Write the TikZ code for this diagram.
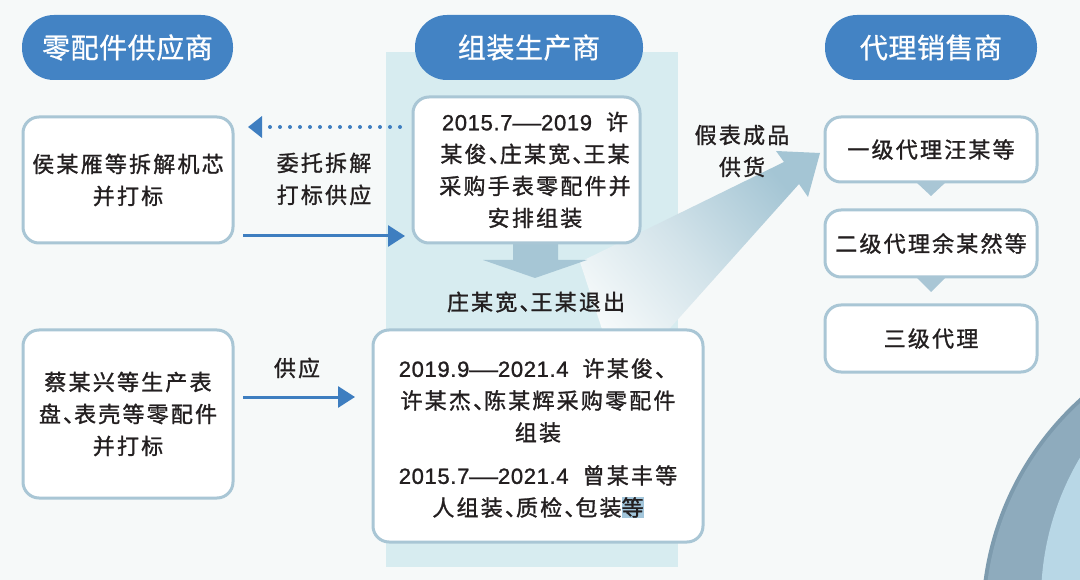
\documentclass[tikz,border=0pt]{standalone}
\usepackage{fontspec}
\usepackage{graphicx}
\setmainfont[LetterSpace=10,FakeBold=1.2]{Noto Sans CJK SC}
\newfontfamily\hdfont[LetterSpace=2,FakeBold=0.8]{Noto Sans CJK SC}
\newfontfamily\lat[LetterSpace=3,FakeBold=1.2]{Liberation Sans}
\usetikzlibrary{arrows.meta}
\definecolor{bg}{HTML}{F6F9F9}
\definecolor{pillc}{HTML}{4383C4}
\definecolor{boxc}{HTML}{A9C6D5}
\definecolor{arrc}{HTML}{3E7EC0}
\definecolor{bandc}{HTML}{D7ECF0}
\definecolor{headc}{HTML}{A4C5D4}
\definecolor{tailc}{HTML}{F8FBFB}
\definecolor{downc}{HTML}{A6C6D5}
\definecolor{txt}{HTML}{231F20}
\definecolor{hl}{HTML}{A3C6DB}
\definecolor{rimc}{HTML}{7D9BAE}
\definecolor{ringc}{HTML}{8EABBD}
\definecolor{innerc}{HTML}{B8D7E6}
\newcommand\dn{、\kern-0.5em}
\newcommand\dsh{\scalebox{1.3}[1]{—}}
\newcommand\bodyf{\fontsize{22}{32}\selectfont}
\begin{document}
\begin{tikzpicture}[x=1pt,y=-1pt,
  box/.style={draw=boxc, line width=3pt, fill=white, rounded corners=16pt, inner sep=0pt, align=center, text=txt, font=\bodyf},
  pill/.style={fill=pillc, rounded corners=32pt, minimum height=65pt, inner sep=0pt, text=white, font=\hdfont\fontsize{28}{34}\selectfont},
  lbl/.style={align=center, text=txt, font=\bodyf, inner sep=0pt},
  arr/.style={draw=arrc, line width=3pt, -{Triangle[length=17pt,width=21pt]}},
  dotarr/.style={draw=arrc, line width=4pt, line cap=round, dash pattern=on 0pt off 10pt, -{Triangle[length=14pt,width=21pt]}},
  tri/.style={fill=boxc}]
\useasboundingbox (0,0) rectangle (1080,580);
\fill[bg] (0,0) rectangle (1080,580);
% decorative rings bottom right
\begin{scope}
\clip (0,0) rectangle (1080,580);
\fill[rimc] (1280,620) circle[radius=299pt];
\fill[ringc] (1280,620) circle[radius=295pt];
\fill[innerc] (1320,600) circle[radius=279pt];
\end{scope}
% band behind the middle column
\fill[bandc] (386,52) rectangle (678,567);
% diagonal arrow
\shade[top color=headc, bottom color=tailc, middle color=headc!45!tailc, shading angle=-50]
  (580,262) -- (784,162) -- (776,151) -- (820,153) -- (808,197) -- (799,184) -- (620,384) -- cycle;
% down arrow
\fill[downc] (513,240) -- (558,240) -- (558,260) -- (587,260) -- (535,278) -- (483,260) -- (513,260) -- cycle;
% headers
\node[pill, minimum width=211pt] (p1) at (127.5,47.5) {零配件供应商};
\node[pill, minimum width=228pt] (p2) at (529,47.5) {组装生产商};
\node[pill, minimum width=212pt] (p3) at (931,47.5) {代理销售商};
% boxes
\node[box, minimum width=210pt, minimum height=126pt] (l1) at (128,180) {侯某雁等拆解机芯\\并打标};
\node[box, minimum width=210pt, minimum height=168pt] (l2) at (128,414) {蔡某兴等生产表\\盘\dn 表壳等零配件\\并打标};
\node[box, minimum width=227pt, minimum height=146pt] (mt) at (526.5,170) {};
\node[lbl] (mtt) at (535,170) {{\lat 2015.7\dsh 2019}\hspace{14pt}许\\某俊\dn 庄某宽\dn 王某\\采购手表零配件并\\安排组装};
\node[box, minimum width=330pt, minimum height=212pt] (mb) at (538,436) {};
\node[lbl] (mbt) at (538,438) {{\lat 2019.9\dsh 2021.4}\hspace{14pt}许某俊、\\许某杰\dn 陈某辉采购零配件\\组装\\[11pt]{\lat 2015.7\dsh 2021.4}\hspace{14pt}曾某丰等\\人组装\dn 质检\dn 包装{\setlength\fboxsep{0pt}\colorbox{hl}{等}}};
\node[box, minimum width=212pt, minimum height=65pt] (r1) at (931,149.5) {一级代理汪某等};
\node[box, minimum width=212pt, minimum height=67pt] (r2) at (931,243.5) {二级代理余某然等};
\node[box, minimum width=212pt, minimum height=67pt] (r3) at (931,338.5) {三级代理};
% small triangles between right boxes
\fill[tri] (916,182) -- (946,182) -- (931,196) -- cycle;
\fill[tri] (916,277) -- (946,277) -- (931,292) -- cycle;
% connectors
\draw[dotarr, shorten <=11.5pt, shorten >=13.5pt] (mt.west |- 0,127) -- (l1.east |- 0,127);
\draw[arr, shorten <=8.5pt, shorten >=6.5pt] (l1.east |- 0,236) -- (mt.west |- 0,236);
\draw[arr, shorten <=8.5pt, shorten >=16.5pt] (l2.east |- 0,397) -- (mb.west |- 0,397);
% labels
\node[lbl] (lab1) at (324,179) {委托拆解\\打标供应};
\node[lbl] (lab2) at (297,368) {供应};
\node[lbl] (lab3) at (742,151) {假表成品\\供货};
\node[lbl] (lab4) at (536,302) {庄某宽\dn 王某退出};
\end{tikzpicture}
\end{document}
